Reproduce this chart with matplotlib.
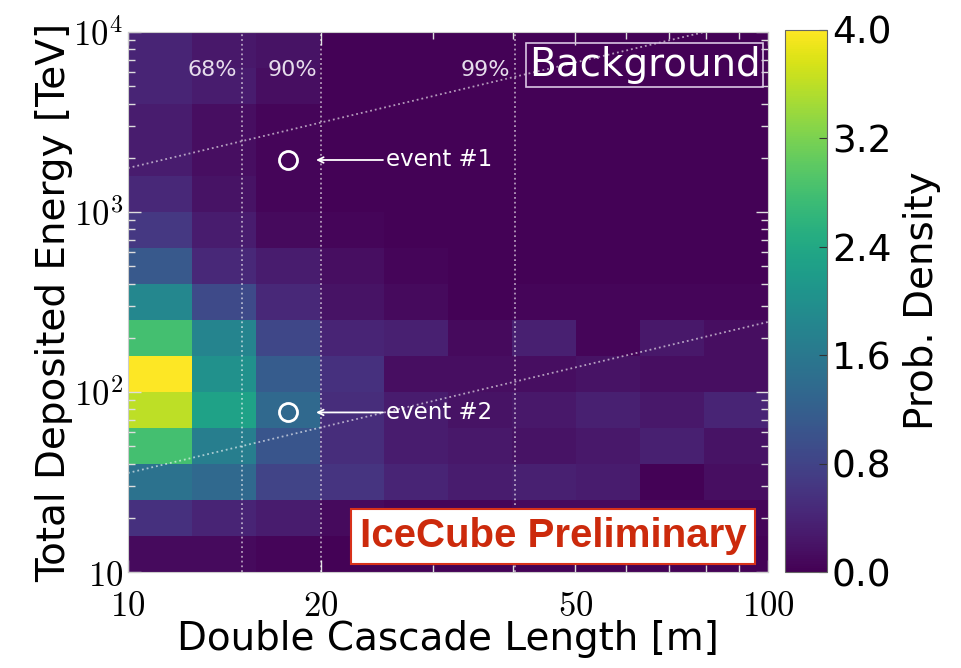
import numpy as np
import matplotlib
matplotlib.use('Agg')
import matplotlib.pyplot as plt
from matplotlib.ticker import NullFormatter, LogLocator

plt.rcParams['mathtext.fontset'] = 'cm'
plt.rcParams['font.family'] = 'DejaVu Sans'

# Bin edges of the histogram (log spaced)
length_edges = np.logspace(1, 2, 11)    # m, 10 bins per decade
energy_edges = np.logspace(1, 4, 16)    # TeV, 5 bins per decade

# Probability density, rows from top (highest energy) to bottom, columns 10 m -> 100 m
density_top_down = [
    [0.40, 0.25, 0.20, 0.03, 0.02, 0.02, 0.02, 0.02, 0.02, 0.02],
    [0.40, 0.30, 0.15, 0.03, 0.02, 0.02, 0.02, 0.02, 0.02, 0.02],
    [0.30, 0.15, 0.05, 0.03, 0.02, 0.02, 0.02, 0.02, 0.02, 0.02],
    [0.30, 0.15, 0.05, 0.03, 0.02, 0.02, 0.02, 0.02, 0.02, 0.02],
    [0.45, 0.20, 0.05, 0.03, 0.02, 0.02, 0.02, 0.02, 0.02, 0.02],
    [0.65, 0.30, 0.10, 0.05, 0.03, 0.02, 0.02, 0.02, 0.02, 0.02],
    [1.10, 0.45, 0.30, 0.15, 0.05, 0.03, 0.03, 0.03, 0.03, 0.03],
    [1.85, 0.90, 0.45, 0.20, 0.10, 0.03, 0.05, 0.05, 0.05, 0.05],
    [2.80, 1.80, 0.85, 0.40, 0.35, 0.10, 0.35, 0.05, 0.25, 0.15],
    [4.00, 2.00, 1.15, 0.55, 0.15, 0.15, 0.15, 0.20, 0.15, 0.15],
    [3.60, 2.30, 1.35, 0.50, 0.30, 0.20, 0.25, 0.35, 0.25, 0.40],
    [2.80, 1.70, 1.05, 0.50, 0.30, 0.25, 0.20, 0.25, 0.35, 0.20],
    [1.50, 1.35, 0.80, 0.60, 0.40, 0.30, 0.35, 0.30, 0.03, 0.15],
    [0.55, 0.40, 0.30, 0.10, 0.05, 0.05, 0.10, 0.10, 0.05, 0.05],
    [0.10, 0.10, 0.05, 0.03, 0.02, 0.02, 0.02, 0.02, 0.02, 0.02],
]

# Containment lines (vertical)
contain_length = [15.05, 20.05, 40.2]
contain_labels = ['68%', '90%', '99%']

# Diagonal dotted band
band_length = [10, 100]
band_upper = [1755, 12110]
band_lower = [35.5, 245]

# Events
event_length = [17.8, 17.8]
event_energy = [1945, 77]
event_labels = ['event #1', 'event #2']

density = np.array(density_top_down)[::-1]

fig = plt.figure(figsize=(9.61, 6.68), dpi=100)
ax = fig.add_axes([0.1332, 0.1437, 0.666, 0.8084])
cax = fig.add_axes([0.8168, 0.1437, 0.0437, 0.8114])

mesh = ax.pcolormesh(length_edges, energy_edges, density, cmap='viridis', vmin=0, vmax=4)
ax.set_xscale('log')
ax.set_yscale('log')
ax.set_xlim(10, 100)
ax.set_ylim(10, 1e4)

# dotted guide lines
for xv in contain_length:
    ax.axvline(xv, color='white', ls=':', lw=1.3, alpha=0.6)
ax.plot(band_length, band_upper, color='white', ls=':', lw=1.3, alpha=0.6)
ax.plot(band_length, band_lower, color='white', ls=':', lw=1.3, alpha=0.6)

for xv, lab in zip(contain_length, contain_labels):
    ax.text(xv * 0.985, 6150, lab, color='#e6dcec', fontsize=16, ha='right', va='center')

# events
ax.plot(event_length, event_energy, 'o', mfc='none', mec='white', ms=13, mew=2)
for xv, yv, lab in zip(event_length, event_energy, event_labels):
    ax.annotate(lab, xy=(xv * 1.105, yv), xytext=(xv * 1.42, yv), color='white',
                fontsize=16.5, va='center', ha='left',
                arrowprops=dict(arrowstyle='->', color='white', lw=1.3,
                                shrinkA=0, shrinkB=0, mutation_scale=10))

ax.text(0.807, 0.939, 'Background', transform=ax.transAxes, color='white', fontsize=28,
        ha='center', va='center',
        bbox=dict(boxstyle='square,pad=0.08', fc='none', ec='#d9c6e3', lw=1.2))
ax.text(0.664, 0.066, 'IceCube Preliminary', transform=ax.transAxes, color='#cc2a0c',
        fontsize=29, fontweight='bold', family='Liberation Sans', ha='center', va='center',
        bbox=dict(boxstyle='square,pad=0.22', fc='white', ec='#d8321a', lw=1.5))

# ticks
ax.set_xticks([10, 20, 50, 100])
ax.set_xticklabels(['$10$', '$20$', '$50$', '$100$'])
ax.set_yticks([10, 100, 1000, 10000])
ax.set_yticklabels(['$10$', '$10^2$', '$10^3$', '$10^4$'])
ax.xaxis.set_minor_locator(LogLocator(base=10, subs=np.arange(2, 10)))
ax.yaxis.set_minor_locator(LogLocator(base=10, subs=np.arange(2, 10)))
ax.xaxis.set_minor_formatter(NullFormatter())
ax.yaxis.set_minor_formatter(NullFormatter())
ax.tick_params(which='both', direction='in', top=True, right=True, color='#dddddd',
               labelsize=25)
ax.tick_params(which='major', length=9, width=1)
ax.tick_params(which='minor', length=5, width=1)
ax.tick_params(axis='x', pad=12)
for sp in ax.spines.values():
    sp.set_color('#cccccc')

ax.set_xlabel('Double Cascade Length [m]', fontsize=28, labelpad=-2)
ax.set_ylabel('Total Deposited Energy [TeV]', fontsize=28, labelpad=0)

cb = fig.colorbar(mesh, cax=cax, ticks=[0.0, 0.8, 1.6, 2.4, 3.2, 4.0], format='%.1f')
cb.ax.tick_params(labelsize=27, direction='in', length=6, color='#333333')
cb.outline.set_edgecolor('#666666')
cb.set_label('Prob. Density', fontsize=28, labelpad=8)

fig.savefig('out.png', dpi=100)
